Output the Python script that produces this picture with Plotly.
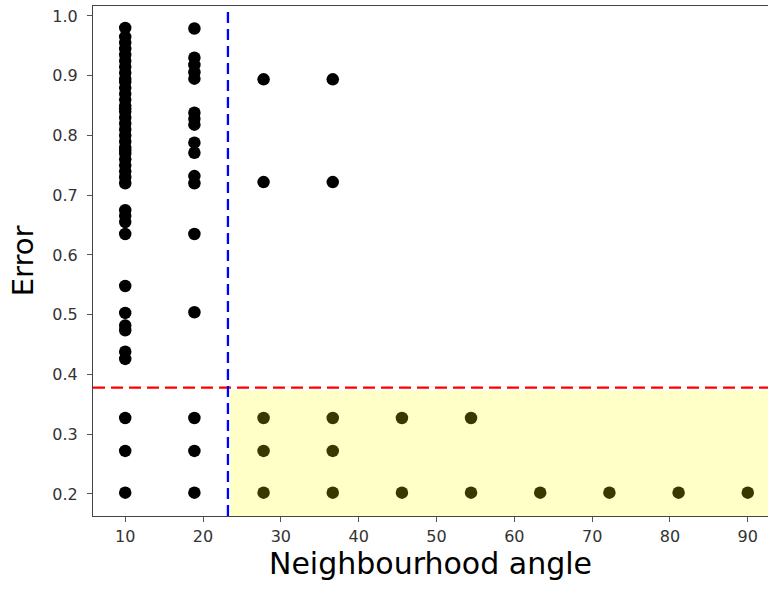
import plotly.graph_objects as go

angles = [10.0, 18.89, 27.78, 36.67, 45.56, 54.44, 63.33, 72.22, 81.11, 90.0]

col_10 = [0.98, 0.965, 0.955, 0.945, 0.935, 0.925, 0.915, 0.905, 0.895, 0.89, 0.88,
          0.87, 0.86, 0.85, 0.845, 0.84, 0.83, 0.82, 0.81, 0.80, 0.79, 0.78, 0.775,
          0.77, 0.76, 0.75, 0.74, 0.73, 0.72, 0.675, 0.665, 0.655, 0.635,
          0.548, 0.503, 0.482, 0.474, 0.438, 0.426, 0.327, 0.272, 0.202]
col_19 = [0.979, 0.93, 0.918, 0.906, 0.895, 0.838, 0.828, 0.818, 0.788, 0.771,
          0.732, 0.72, 0.635, 0.504, 0.327, 0.272, 0.202]
col_28 = [0.894, 0.722, 0.327, 0.272, 0.202]
col_37 = [0.894, 0.722, 0.327, 0.272, 0.202]
col_46 = [0.327, 0.202]
col_54 = [0.327, 0.202]
col_63 = [0.202]
col_72 = [0.202]
col_81 = [0.202]
col_90 = [0.202]

columns = [col_10, col_19, col_28, col_37, col_46, col_54, col_63, col_72, col_81, col_90]

error_threshold = 0.378
angle_threshold = 23.2
x_ticks = [10, 20, 30, 40, 50, 60, 70, 80, 90]
y_ticks = [0.2, 0.3, 0.4, 0.5, 0.6, 0.7, 0.8, 0.9, 1.0]

xs, ys = [], []
for a, col in zip(angles, columns):
    for v in col:
        xs.append(a)
        ys.append(v)

fig = go.Figure()
fig.add_trace(go.Scatter(x=xs, y=ys, mode="markers",
                         marker=dict(color="black", size=12.5, line=dict(width=0)),
                         showlegend=False, hoverinfo="skip"))

x_range = [5.86, 92.6]
y_range = [0.163, 1.0167]

fig.add_shape(type="rect", xref="x", yref="y", x0=23.5, x1=x_range[1],
              y0=y_range[0], y1=0.373, fillcolor="rgba(255,255,0,0.22)",
              line=dict(width=0), layer="above")
fig.add_shape(type="line", xref="paper", yref="y", x0=0, x1=1,
              y0=error_threshold, y1=error_threshold,
              line=dict(color="red", width=2.3, dash="12px,6px"), layer="above")
fig.add_shape(type="line", xref="x", yref="y", x0=angle_threshold, x1=angle_threshold,
              y0=y_range[0], y1=y_range[1],
              line=dict(color="blue", width=2.3, dash="11px,6px"), layer="above")

axis_font = dict(family="DejaVu Sans", size=16, color="#333333")
fig.update_xaxes(range=x_range, tickvals=x_ticks, ticks="outside", ticklen=5,
                 tickcolor="#555", showgrid=False, zeroline=False, showline=True,
                 linecolor="#444", linewidth=1.2, mirror=True, tickfont=axis_font,
                 ticklabelstandoff=1,
                 title=dict(text="Neighbourhood angle",
                            font=dict(family="DejaVu Sans", size=30, color="black"),
                            standoff=6))
fig.update_yaxes(range=y_range, tickvals=y_ticks, ticktext=[f"{v:.1f}" for v in y_ticks],
                 ticks="outside", ticklen=5, tickcolor="#555", showgrid=False,
                 zeroline=False, showline=True, linecolor="#444", linewidth=1.2,
                 mirror=False, tickfont=axis_font, ticklabelstandoff=6,
                 title=dict(text="Error",
                            font=dict(family="DejaVu Sans", size=29, color="black"),
                            standoff=10))

fig.update_layout(width=768, height=590, plot_bgcolor="white", paper_bgcolor="white",
                  margin=dict(l=93, r=0, t=6, b=74, autoexpand=False))

fig.write_html("out.html", config={"displayModeBar": False},
               post_script="document.body.style.margin='0px';document.body.style.overflow='hidden';")
